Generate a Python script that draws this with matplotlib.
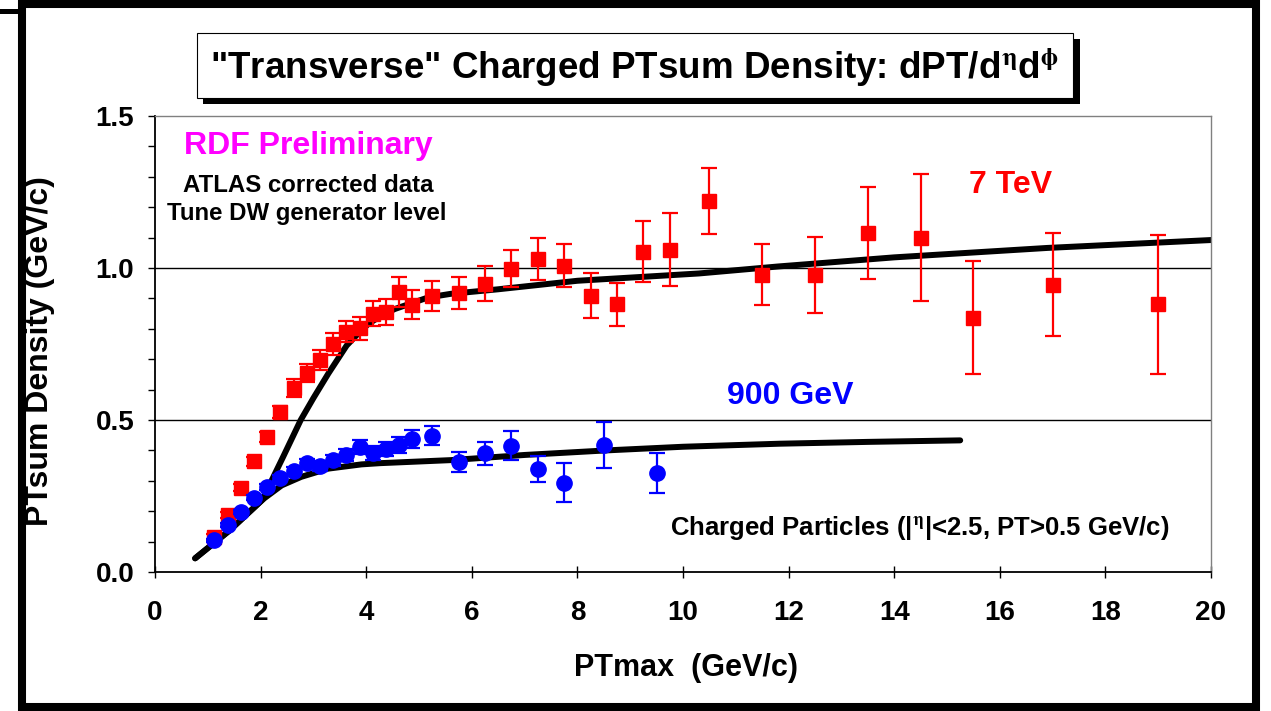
import matplotlib
matplotlib.use('Agg')
import matplotlib.pyplot as plt
from matplotlib.patches import Rectangle
from matplotlib.lines import Line2D
from matplotlib.ticker import MultipleLocator

plt.rcParams['font.family'] = ['Liberation Sans', 'DejaVu Sans']
plt.rcParams['font.weight'] = 'bold'
plt.rcParams['mathtext.fontset'] = 'stix'

# ---------------- data ----------------
x_7tev = [1.125, 1.375, 1.625, 1.875, 2.125, 2.375, 2.625, 2.875, 3.125, 3.375,
          3.625, 3.875, 4.125, 4.375, 4.625, 4.875, 5.25, 5.75, 6.25, 6.75,
          7.25, 7.75, 8.25, 8.75, 9.25, 9.75, 10.5, 11.5, 12.5, 13.5,
          14.5, 15.5, 17.0, 19.0]
y_7tev = [0.115, 0.187, 0.277, 0.364, 0.444, 0.527, 0.605, 0.655, 0.697, 0.750,
          0.791, 0.802, 0.850, 0.855, 0.921, 0.879, 0.907, 0.919, 0.948, 0.998,
          1.030, 1.008, 0.909, 0.880, 1.053, 1.060, 1.220, 0.978, 0.978, 1.116,
          1.100, 0.837, 0.945, 0.880]
e_7tev = [0.010, 0.010, 0.012, 0.014, 0.016, 0.020, 0.030, 0.030, 0.032, 0.035,
          0.036, 0.038, 0.042, 0.044, 0.048, 0.048, 0.050, 0.053, 0.057, 0.060,
          0.070, 0.072, 0.073, 0.072, 0.100, 0.120, 0.108, 0.100, 0.125, 0.152,
          0.210, 0.185, 0.170, 0.230]

x_900 = [1.125, 1.375, 1.625, 1.875, 2.125, 2.375, 2.625, 2.875, 3.125, 3.375,
         3.625, 3.875, 4.125, 4.375, 4.625, 4.875, 5.25, 5.75, 6.25, 6.75,
         7.25, 7.75, 8.5, 9.5]
y_900 = [0.105, 0.154, 0.198, 0.245, 0.280, 0.309, 0.333, 0.359, 0.348, 0.368,
         0.384, 0.411, 0.392, 0.405, 0.417, 0.437, 0.448, 0.362, 0.390, 0.415,
         0.339, 0.294, 0.417, 0.326]
e_900 = [0.005, 0.006, 0.007, 0.008, 0.009, 0.010, 0.012, 0.014, 0.016, 0.018,
         0.020, 0.022, 0.022, 0.024, 0.026, 0.030, 0.031, 0.033, 0.039, 0.048,
         0.044, 0.064, 0.075, 0.066]

dw7_x = [0.76, 1.4, 2.05, 2.1, 2.43, 2.76, 3.0, 3.28, 3.63, 3.85, 4.04, 4.3,
         4.54, 5.17, 5.6, 6.5, 8.0, 10.3, 11.8, 14.0, 16.9, 20.0]
dw7_y = [0.045, 0.135, 0.24, 0.262, 0.38, 0.50, 0.572, 0.652, 0.745, 0.785,
         0.816, 0.845, 0.865, 0.903, 0.915, 0.93, 0.958, 0.982, 1.005, 1.035,
         1.066, 1.092]

dw900_x = [0.76, 1.4, 2.05, 2.4, 2.77, 3.28, 3.91, 4.26, 5.6, 7.0, 8.55, 10.0,
           11.83, 13.5, 15.25]
dw900_y = [0.045, 0.135, 0.24, 0.285, 0.313, 0.34, 0.354, 0.358, 0.368, 0.385,
           0.40, 0.412, 0.422, 0.428, 0.433]

x_ticks = [0, 2, 4, 6, 8, 10, 12, 14, 16, 18, 20]
y_ticks = [0.0, 0.5, 1.0, 1.5]

# ---------------- figure ----------------
W, H = 1271, 711
fig = plt.figure(figsize=(W / 100, H / 100), dpi=100)
fig.patch.set_facecolor('white')


def fx(px):
    return px / W


def fy(py):
    return 1 - py / H


ax = fig.add_axes([fx(155), fy(572), fx(1211) - fx(155), fy(116) - fy(572)])
ax.set_xlim(0, 20)
ax.set_ylim(0, 1.5)

for g in (0.5, 1.0):
    ax.axhline(g, color='black', lw=1.0, zorder=1)

ax.plot(dw7_x, dw7_y, color='black', lw=4.3, solid_capstyle='round',
        solid_joinstyle='round', zorder=2)
ax.plot(dw900_x, dw900_y, color='black', lw=4.3, solid_capstyle='round',
        solid_joinstyle='round', zorder=2)

ax.errorbar(x_7tev, y_7tev, yerr=e_7tev, fmt='s', color='#FF0000', ms=10,
            capsize=5.5, elinewidth=1.6, capthick=1.6, zorder=3)
ax.errorbar(x_900, y_900, yerr=e_900, fmt='o', color='#0000FF', ms=11,
            capsize=5.5, elinewidth=1.6, capthick=1.6, zorder=4)

ax.set_xticks(x_ticks)
ax.set_yticks(y_ticks)
ax.set_yticklabels([f'{v:.1f}' for v in y_ticks])
ax.yaxis.set_minor_locator(MultipleLocator(0.1))
ax.tick_params(axis='x', direction='inout', length=8, width=1, pad=16,
               labelsize=20)
ax.tick_params(axis='y', which='both', direction='out', length=5, width=1,
               pad=10, labelsize=20)

for s in ('left', 'bottom'):
    ax.spines[s].set_color('black')
    ax.spines[s].set_linewidth(1.3)
for s in ('top', 'right'):
    ax.spines[s].set_color('#808080')
    ax.spines[s].set_linewidth(1.0)

# axis labels
fig.text(fx(686), fy(668), 'PTmax  (GeV/c)', fontsize=22, ha='center',
         va='center')
fig.text(fx(40), fy(351), 'PTsum Density (GeV/c)', fontsize=23, ha='center',
         va='center', rotation=90)

# annotations
fig.text(fx(308), fy(146), 'RDF Preliminary', color='#FF00FF', fontsize=23,
         ha='center', va='center')
fig.text(fx(308), fy(186), 'ATLAS corrected data', color='black',
         fontsize=17.3, ha='center', va='center')
fig.text(fx(307), fy(214), 'Tune DW generator level', color='black',
         fontsize=17.3, ha='center', va='center')
fig.text(fx(1011), fy(185), '7 TeV', color='#FF0000', fontsize=23,
         ha='center', va='center')
fig.text(fx(790), fy(396), '900 GeV', color='#0000FF', fontsize=23,
         ha='center', va='center')
fig.text(fx(920), fy(528),
         r'Charged Particles (|$^{\mathrm{\eta}}$|<2.5, PT>0.5 GeV/c)',
         color='black', fontsize=18.5, ha='center', va='center')

# title box with shadow
fig.add_artist(Rectangle((fx(203), fy(104)), fx(1080) - fx(203),
                         fy(39) - fy(104), transform=fig.transFigure,
                         facecolor='black', edgecolor='none', zorder=5))
fig.add_artist(Rectangle((fx(197), fy(98)), fx(1073) - fx(197),
                         fy(33) - fy(98), transform=fig.transFigure,
                         facecolor='white', edgecolor='black', lw=0.8,
                         zorder=6))
fig.text(fx(635), fy(67),
         r'"Transverse" Charged PTsum Density: dPT/d$^{\mathrm{\eta}}$d$^{\mathrm{\phi}}$',
         fontsize=26.5, ha='center', va='center', zorder=7)

# outer frame
fig.add_artist(Rectangle((fx(21.5), fy(707)), fx(1255.5) - fx(21.5),
                         fy(4) - fy(707), transform=fig.transFigure,
                         facecolor='none', edgecolor='black', lw=5.8,
                         zorder=8))
fig.add_artist(Line2D([fx(0), fx(21)], [fy(10.5), fy(10.5)],
                      transform=fig.transFigure, color='black', lw=3.6,
                      zorder=8))

fig.savefig('out.png', dpi=100, facecolor='white')
